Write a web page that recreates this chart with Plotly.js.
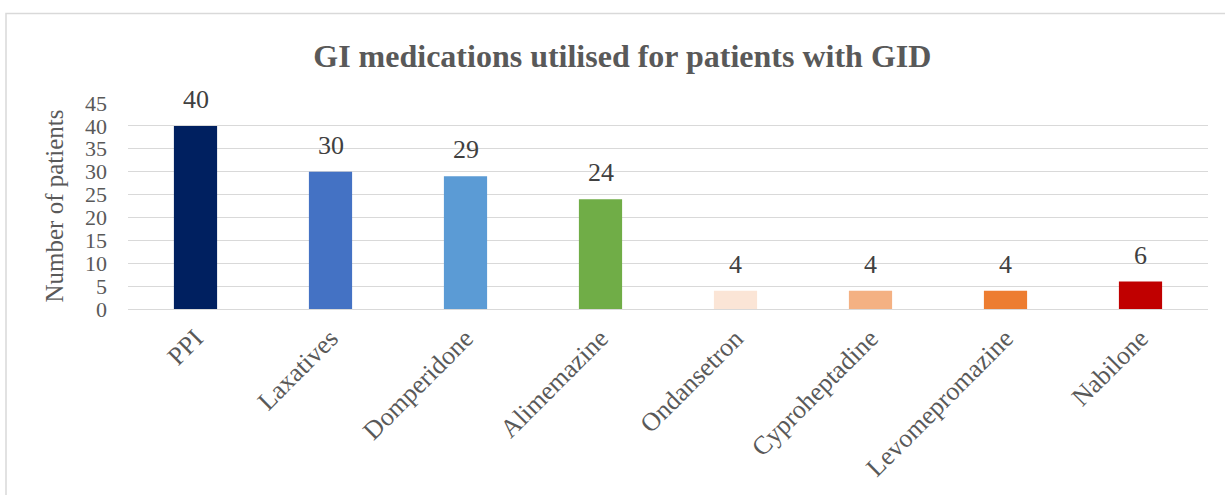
<!DOCTYPE html>
<html>
<head>
<meta charset="utf-8">
<script src="https://cdn.plot.ly/plotly-3.0.1.min.js"></script>
<style>html,body{margin:0;padding:0;background:#fff;}#chart{width:1225px;height:495px;}</style>
</head>
<body>
<div id="chart"></div>
<script>
const categories = ["PPI", "Laxatives", "Domperidone", "Alimemazine", "Ondansetron", "Cyproheptadine", "Levomepromazine", "Nabilone"];
const patients = [40, 30, 29, 24, 4, 4, 4, 6];
const barColors = ["#002060", "#4472C4", "#5B9BD5", "#70AD47", "#FBE5D6", "#F4B183", "#ED7D31", "#C00000"];
const yTicks = [0, 5, 10, 15, 20, 25, 30, 35, 40, 45];

const font = "Liberation Serif, Times New Roman, serif";
const trace = {
  type: "bar",
  x: categories,
  y: patients,
  marker: {color: barColors},
  width: 0.32,
  hoverinfo: "x+y"
};
const labels = categories.map((c, i) => ({
  x: c, y: patients[i], xref: "x", yref: "y", text: String(patients[i]),
  showarrow: false, yanchor: "bottom", yshift: 10,
  font: {family: font, size: 26, color: "#404040"}
}));
const layout = {
  width: 1225, height: 495,
  margin: {l: 128, r: 17, t: 103, b: 186},
  paper_bgcolor: "#fff", plot_bgcolor: "#fff",
  showlegend: false,
  title: {text: "<b>GI medications utilised for patients with GID</b>", x: 0.508, xanchor: "center", y: 0.887, yanchor: "middle",
          font: {family: font, size: 32, color: "#595959"}},
  xaxis: {tickangle: -45, tickfont: {family: font, size: 26, color: "#595959"}, showline: false, ticks: "", showgrid: false,
          ticklabelstandoff: 8},
  yaxis: {range: [0, 45], tickvals: yTicks, ticktext: yTicks.map(String), showgrid: true, gridcolor: "#d9d9d9", gridwidth: 1,
          zeroline: true, zerolinecolor: "#d9d9d9", zerolinewidth: 1,
          tickfont: {family: font, size: 22, color: "#595959"}, ticks: "", ticklen: 0, ticklabelstandoff: 20,
          title: {text: "Number of patients", font: {family: font, size: 25, color: "#595959"}, standoff: 14}},
  annotations: labels,
  shapes: [{type: "rect", xref: "paper", yref: "paper", x0: -122/1080, x1: 1100/1080, y0: -200/206, y1: (309-13.5)/206,
            line: {color: "#d9d9d9", width: 1.5}, fillcolor: "rgba(0,0,0,0)", layer: "below"}]
};
Plotly.newPlot("chart", [trace], layout, {staticPlot: true, displayModeBar: false});
</script>
</body>
</html>
